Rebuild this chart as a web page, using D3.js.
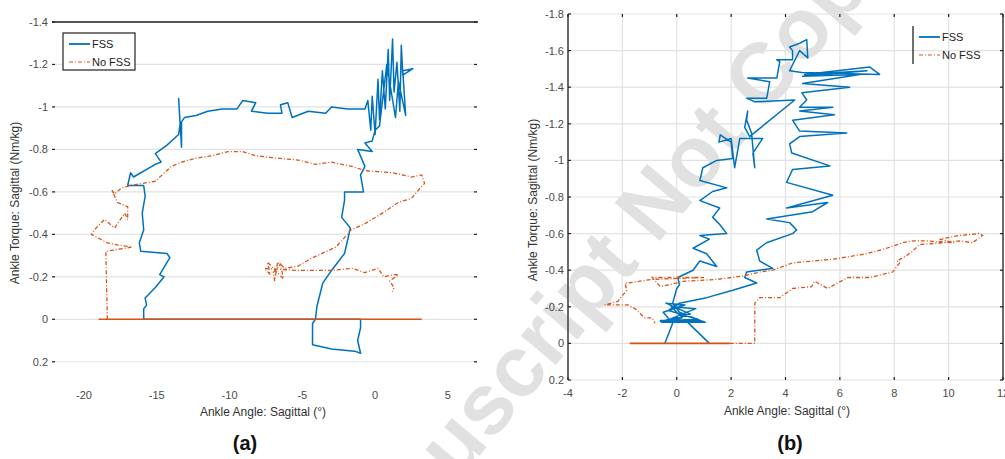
<!DOCTYPE html>
<html lang="en">
<head>
  <meta charset="UTF-8">
  <title>Ankle torque vs ankle angle</title>
  <script src="https://cdn.jsdelivr.net/npm/d3@7"></script>
</head>
<body style="margin:0;background:#fff">
<style>
    text { font-family: "Liberation Sans", Arial, sans-serif; }
    .tick-label { font-size: 11px; fill: #4a4a4a; }
    .axis-label { font-size: 12px; fill: #333; }
    .panel-label { font-size: 20px; font-weight: bold; fill: #111; }
    .legend-text { font-size: 11px; fill: #222; }
    .grid line { stroke: #e2e2e2; stroke-width: 1.2px; }
</style>
<svg id="chart" width="1005" height="459"></svg>
<script>

// ---- panel (a) ----
var xTicksA = [-20, -15, -10, -5, 0, 5];
var yTicksA = [-1.4, -1.2, -1, -0.8, -0.6, -0.4, -0.2, 0, 0.2];

// FSS, panel (a): [angle, torque]
var fssA = [
  [-15.9, 0], [-15.9, -0.05], [-15.7, -0.066], [-15.8, -0.10], [-15.1, -0.15], [-14.5, -0.20],
  [-14.8, -0.21], [-14.1, -0.29], [-14.3, -0.31], [-16.1, -0.32], [-16.2, -0.36], [-15.9, -0.42],
  [-16.0, -0.50], [-15.8, -0.58], [-15.9, -0.63], [-17.0, -0.63], [-16.8, -0.69], [-16.6, -0.67],
  [-15.1, -0.73], [-14.7, -0.74], [-15.1, -0.78], [-14.3, -0.82], [-13.5, -0.87], [-13.4, -0.92],
  [-13.5, -1.04], [-13.3, -0.81], [-13.3, -0.93], [-13.1, -0.95], [-12.3, -0.96], [-11.5, -0.98],
  [-10.5, -0.99], [-9.5, -0.99], [-9.1, -1.03], [-8.2, -1.02], [-8.5, -0.98], [-7.4, -0.97],
  [-6.4, -0.97], [-6.5, -1.01], [-6.0, -1.02], [-5.7, -0.95], [-4.6, -0.98], [-3.4, -0.97],
  [-3.0, -1.0], [-1.9, -0.99], [-0.7, -0.99], [-0.5, -1.03],
  [-0.3, -0.89], [-0.2, -1.05], [0, -0.87], [0.2, -1.13], [0.3, -0.94], [0.5, -1.17],
  [0.7, -0.99], [0.9, -1.27], [1.0, -1.03], [1.2, -1.32], [1.3, -1.07], [1.5, -1.21],
  [1.7, -0.98], [1.8, -1.29], [1.9, -1.15], [2.6, -1.18], [1.9, -1.17], [2.1, -0.96],
  [1.6, -1.12], [1.4, -0.95], [0.8, -1.2], [0.3, -0.91], [0, -0.89], [-0.2, -0.84],
  [-0.7, -0.83], [-0.2, -0.79], [-1.2, -0.80], [-0.7, -0.72], [-1.0, -0.68], [-0.8, -0.60],
  [-2.1, -0.60], [-2.1, -0.56], [-2.3, -0.48], [-1.7, -0.43], [-2.1, -0.31], [-3.1, -0.22],
  [-3.6, -0.17], [-4.0, -0.06], [-4.1, 0], [-4.3, 0.02], [-4.3, 0.12], [-3.0, 0.14],
  [-1.4, 0.15], [-1.0, 0.16], [-1.2, 0.10], [-1.0, 0.04], [-1.0, 0], [-15.9, 0]
];

// No FSS, panel (a)
var noFssZeroA = [-19.0, 3.2];
var noFssA = [
  [-18.4, 0], [-18.5, -0.32], [-16.7, -0.34], [-17.7, -0.35], [-18.4, -0.36], [-19.5, -0.40],
  [-19.3, -0.42], [-18.6, -0.47], [-17.9, -0.43], [-17.2, -0.50], [-17.0, -0.47], [-17.0, -0.53],
  [-17.7, -0.55], [-17.9, -0.58], [-18.1, -0.61], [-17.9, -0.59], [-17.4, -0.62], [-16.8, -0.63],
  [-16.0, -0.64], [-15.1, -0.65], [-14.0, -0.72], [-13.3, -0.74], [-12.2, -0.76], [-11.2, -0.77],
  [-10.1, -0.79], [-9.1, -0.79], [-8.2, -0.77], [-6.9, -0.76], [-5.3, -0.75], [-4.1, -0.73],
  [-3.0, -0.74], [-1.6, -0.72], [-0.7, -0.70], [1.2, -0.69], [2.5, -0.67], [3.2, -0.68],
  [3.4, -0.64], [3.0, -0.61], [2.5, -0.57], [1.6, -0.55], [0.5, -0.50], [-0.7, -0.45],
  [-1.7, -0.42], [-1.9, -0.40], [-2.7, -0.34], [-4.3, -0.29], [-5.3, -0.25], [-6.2, -0.24],
  [-6.7, -0.27], [-6.9, -0.18], [-7.0, -0.22], [-6.5, -0.26], [-6.3, -0.19], [-7.4, -0.27],
  [-7.2, -0.21], [-7.6, -0.24], [-5.3, -0.23], [-3.0, -0.23], [-1.6, -0.24], [-0.7, -0.22],
  [0.2, -0.24], [0.6, -0.20], [1.2, -0.21], [1.6, -0.21], [1.0, -0.18], [1.3, -0.15], [1.2, -0.13]
];

// ---- panel (b) ----
var xTicksB = [-4, -2, 0, 2, 4, 6, 8, 10, 12];
var yTicksB = [-1.8, -1.6, -1.4, -1.2, -1, -0.8, -0.6, -0.4, -0.2, 0, 0.2];

var fssB = [
  [-0.44, 0], [-0.15, -0.11], [-0.5, -0.17], [0.3, -0.21], [-0.4, -0.22], [0.5, -0.16],
  [-0.6, -0.12], [1.0, -0.12], [-0.3, -0.13], [0.7, -0.19], [-0.2, -0.2], [0.2, -0.14],
  [-0.55, -0.115], [1.05, -0.115], [0.1, -0.17], [-0.15, -0.22],
  [0.0, -0.30], [0.1, -0.32], [0.04, -0.36], [0.6, -0.40], [0.85, -0.45], [1.47, -0.42],
  [1.1, -0.49], [0.6, -0.52], [1.2, -0.57], [0.85, -0.59], [1.84, -0.60], [1.58, -0.65],
  [1.32, -0.69], [1.58, -0.74], [0.85, -0.78], [1.32, -0.83], [1.84, -0.85], [0.85, -0.89],
  [0.96, -0.96], [1.47, -1.0], [2.06, -1.01], [2.0, -1.10], [1.6, -1.14], [1.55, -1.10],
  [2.0, -1.12], [2.13, -0.96], [2.32, -1.12], [3.16, -1.12], [2.8, -1.04], [2.87, -0.96],
  [2.75, -1.15], [2.57, -1.22], [2.61, -1.27], [2.5, -1.18], [2.68, -1.13], [4.34, -1.33],
  [2.87, -1.32], [2.57, -1.34], [3.31, -1.34], [3.42, -1.43], [2.61, -1.45], [3.68, -1.45],
  [3.79, -1.54], [3.68, -1.55], [4.26, -1.55], [4.26, -1.60], [4.15, -1.62], [4.52, -1.64],
  [4.78, -1.66], [4.82, -1.56], [4.52, -1.60], [4.15, -1.49], [4.6, -1.48], [7.46, -1.47],
  [7.1, -1.51], [4.7, -1.47], [7.0, -1.49], [4.63, -1.46], [6.73, -1.47], [4.63, -1.42],
  [6.36, -1.40], [4.6, -1.37], [4.78, -1.33], [4.52, -1.29], [5.74, -1.29], [4.52, -1.27],
  [5.8, -1.25], [4.26, -1.22], [4.52, -1.16], [6.25, -1.15], [4.52, -1.13], [4.15, -1.09],
  [4.23, -1.04], [5.63, -0.97], [4.26, -0.95], [4.04, -0.88], [5.74, -0.81], [4.04, -0.74],
  [5.55, -0.77], [5.0, -0.72], [3.31, -0.68], [4.15, -0.66], [4.41, -0.62], [4.26, -0.60],
  [3.3, -0.55], [2.94, -0.51], [3.05, -0.45], [3.53, -0.41], [2.57, -0.39], [2.5, -0.36],
  [2.94, -0.33], [2.06, -0.29], [1.1, -0.25], [0.1, -0.22], [-0.3, -0.18], [0.8, -0.13],
  [-0.6, -0.125], [0.9, -0.12], [0.3, -0.13], [1.2, 0]
];

var noFssZeroB = [-1.73, 1.95];
var noFssB = [
  [1.95, 0], [2.87, 0], [2.87, -0.22], [3.05, -0.25], [3.79, -0.25], [4.26, -0.30], [4.96, -0.31],
  [5.07, -0.34], [5.55, -0.30], [6.29, -0.36], [7.1, -0.36], [7.94, -0.39], [8.2, -0.44],
  [8.1, -0.45], [8.46, -0.48], [8.64, -0.50], [8.93, -0.54], [9.78, -0.55], [10.4, -0.56],
  [10.88, -0.55], [11.25, -0.59], [11.14, -0.60], [10.4, -0.59], [9.67, -0.57], [10.2, -0.55],
  [9.19, -0.56], [8.68, -0.56], [8.31, -0.55], [7.72, -0.52], [6.99, -0.49], [5.74, -0.46],
  [4.26, -0.44], [3.53, -0.40], [3.05, -0.39], [2.5, -0.37], [1.5, -0.35], [0.3, -0.34],
  [-0.6, -0.31], [-0.9, -0.36], [1.0, -0.36], [-0.9, -0.35], [-1.8, -0.33], [-1.9, -0.33],
  [-1.84, -0.29], [-2.17, -0.23], [-2.65, -0.21], [-1.8, -0.21], [-1.54, -0.19], [-1.18, -0.14],
  [-0.9, -0.14], [-0.8, -0.11]
];

var seriesNames = ["FSS", "No FSS"];
var seriesColors = ["#0072BD", "#D95319"];
var dashNoFss = "4,2,1,2";

var svg = d3.select("#chart");

// watermark (under the traces)
svg.append("text")
    .attr("transform", "translate(688,172) rotate(-50)")
    .attr("text-anchor", "middle")
    .attr("dominant-baseline", "middle")
    .style("font-size", "86px")
    .style("font-weight", "bold")
    .style("fill", "#e1e1e1")
    .text("Manuscript Not Copyedited");

function drawPanel(cfg) {
    var x = d3.scaleLinear().domain(cfg.xDomain).range(cfg.xRange);
    var y = d3.scaleLinear().domain(cfg.yDomain).range(cfg.yRange);
    var g = svg.append("g");

    // horizontal grid
    g.append("g").attr("class", "grid").selectAll("line")
        .data(cfg.yTicks).enter().append("line")
        .attr("x1", cfg.xRange[0]).attr("x2", cfg.xRange[1])
        .attr("y1", d => y(d)).attr("y2", d => y(d));

    if (cfg.vGrid) {
        g.append("g").attr("class", "grid").selectAll("line")
            .data(cfg.xTicks).enter().append("line")
            .attr("x1", d => x(d)).attr("x2", d => x(d))
            .attr("y1", cfg.yRange[0]).attr("y2", cfg.yRange[1]);
    }

    // small tick marks on both sides
    g.selectAll(".ytl").data(cfg.yTicks).enter().append("line")
        .attr("x1", cfg.xRange[0]).attr("x2", cfg.xRange[0] + 3)
        .attr("y1", d => y(d)).attr("y2", d => y(d))
        .attr("stroke", "#222").attr("stroke-width", 1.2);
    g.selectAll(".ytr").data(cfg.yTicks).enter().append("line")
        .attr("x1", cfg.xRange[1] - 3).attr("x2", cfg.xRange[1])
        .attr("y1", d => y(d)).attr("y2", d => y(d))
        .attr("stroke", "#222").attr("stroke-width", 1.2);

    if (cfg.frame) {
        g.append("line").attr("x1", cfg.xRange[0]).attr("x2", cfg.xRange[0])
            .attr("y1", cfg.yRange[0]).attr("y2", cfg.yRange[1])
            .attr("stroke", "#222").attr("stroke-width", 1.3);
        g.append("line").attr("x1", cfg.xRange[1]).attr("x2", cfg.xRange[1])
            .attr("y1", cfg.yRange[0]).attr("y2", cfg.yRange[1])
            .attr("stroke", "#222").attr("stroke-width", 1.3);
        g.selectAll(".xtt").data(cfg.xTicks).enter().append("line")
            .attr("x1", d => x(d)).attr("x2", d => x(d))
            .attr("y1", cfg.yRange[0]).attr("y2", cfg.yRange[0] + 3)
            .attr("stroke", "#222").attr("stroke-width", 1.2);
        g.selectAll(".xtb").data(cfg.xTicks).enter().append("line")
            .attr("x1", d => x(d)).attr("x2", d => x(d))
            .attr("y1", cfg.yRange[1] - 3).attr("y2", cfg.yRange[1])
            .attr("stroke", "#222").attr("stroke-width", 1.2);
    } else {
        // only the top border is drawn in panel (a)
        g.append("line").attr("x1", cfg.xRange[0]).attr("x2", cfg.xRange[1] + 1)
            .attr("y1", cfg.yRange[0]).attr("y2", cfg.yRange[0])
            .attr("stroke", "#222").attr("stroke-width", 1.4);
    }

    // tick labels
    g.selectAll(".yl").data(cfg.yTicks).enter().append("text")
        .attr("class", "tick-label")
        .attr("x", cfg.xRange[0] - 4).attr("y", d => y(d) + 4)
        .attr("text-anchor", "end")
        .text(d => String(d));
    g.selectAll(".xl").data(cfg.xTicks).enter().append("text")
        .attr("class", "tick-label")
        .attr("x", d => x(d)).attr("y", cfg.xLabelY)
        .attr("text-anchor", "middle")
        .text(d => String(d));

    // axis titles
    g.append("text").attr("class", "axis-label")
        .attr("transform", "translate(" + cfg.yTitleX + "," + cfg.yTitleY + ") rotate(-90)")
        .attr("text-anchor", "middle")
        .text("Ankle Torque: Sagittal (Nm/kg)");
    g.append("text").attr("class", "axis-label")
        .attr("x", cfg.xTitleX).attr("y", cfg.xTitleY)
        .attr("text-anchor", "middle")
        .text("Ankle Angle: Sagittal (\u00b0)");
    g.append("text").attr("class", "panel-label")
        .attr("x", cfg.xTitleX - 18 + cfg.tagShift).attr("y", 450)
        .attr("text-anchor", "middle")
        .text(cfg.tag);

    var line = d3.line().x(d => x(d[0])).y(d => y(d[1]));

    // FSS first, No FSS on top
    g.append("path").datum(cfg.fss)
        .attr("d", line).attr("fill", "none")
        .attr("stroke", seriesColors[0]).attr("stroke-width", 1.5)
        .attr("stroke-linejoin", "round");
    g.append("line")
        .attr("x1", x(cfg.zero[0])).attr("x2", x(cfg.zero[1]))
        .attr("y1", y(0)).attr("y2", y(0))
        .attr("stroke", seriesColors[1]).attr("stroke-width", 1.6);
    g.append("path").datum(cfg.noFss)
        .attr("d", line).attr("fill", "none")
        .attr("stroke", seriesColors[1]).attr("stroke-width", 1.3)
        .attr("stroke-dasharray", dashNoFss);

    return g;
}

drawPanel({
    xDomain: [-22.2, 7], xRange: [52, 477],
    yDomain: [-1.4, 0.3], yRange: [22, 383],
    xTicks: xTicksA, yTicks: yTicksA, vGrid: false, frame: false,
    xLabelY: 399, yTitleX: 19, yTitleY: 203, xTitleX: 263, xTitleY: 416,
    tag: "(a)", tagShift: 0,
    fss: fssA, noFss: noFssA, zero: noFssZeroA
});

drawPanel({
    xDomain: [-4, 12], xRange: [568, 1003],
    yDomain: [-1.8, 0.2], yRange: [14, 380],
    xTicks: xTicksB, yTicks: yTicksB, vGrid: true, frame: true,
    xLabelY: 397, yTitleX: 537, yTitleY: 200, xTitleX: 787, xTitleY: 415,
    tag: "(b)", tagShift: 21,
    fss: fssB, noFss: noFssB, zero: noFssZeroB
});

// legends
function legend(lx, ly, boxed) {
    var lg = svg.append("g").attr("transform", "translate(" + lx + "," + ly + ")");
    if (boxed) {
        lg.append("rect").attr("x", 0).attr("y", 0).attr("width", 72).attr("height", 37)
            .attr("fill", "#fff").attr("stroke", "#222").attr("stroke-width", 1.2);
    } else {
        lg.append("line").attr("x1", 0).attr("x2", 0).attr("y1", 0).attr("y2", 38)
            .attr("stroke", "#222").attr("stroke-width", 1.3);
    }
    seriesNames.forEach(function(name, i) {
        var yy = 11 + i * 18;
        lg.append("line").attr("x1", 6).attr("x2", 27).attr("y1", yy).attr("y2", yy)
            .attr("stroke", seriesColors[i]).attr("stroke-width", i ? 1.2 : 1.8)
            .attr("stroke-dasharray", i ? dashNoFss : null);
        lg.append("text").attr("class", "legend-text")
            .attr("x", 29).attr("y", yy + 4).text(name);
    });
}
legend(63, 33, true);
legend(913, 26, false);

</script>
</body>
</html>
